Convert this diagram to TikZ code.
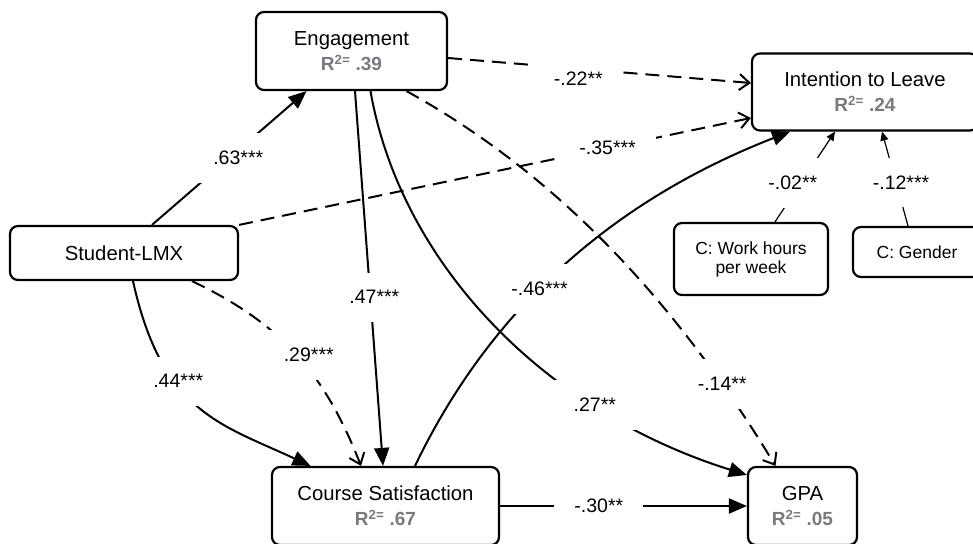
\documentclass[tikz,border=0pt]{standalone}
\usepackage{fontspec}
\setmainfont{Liberation Sans}
\usetikzlibrary{arrows.meta,calc}
\definecolor{rgrigio}{RGB}{120,122,128}
\newcommand{\erre}[1]{{\fontsize{19}{25}\selectfont\color{rgrigio}\bfseries R\textsuperscript{2=} #1}}
\begin{document}
\begin{tikzpicture}[x=1pt,y=-1pt,
    box/.style={draw,line width=2.2pt,rounded corners=8pt,align=center,
      font=\fontsize{20.3}{25}\selectfont,inner sep=0pt},
    ctrl/.style={box,font=\fontsize{17.5}{19}\selectfont},
    lab/.style={fill=white,inner xsep=20pt,inner ysep=18pt,
      font=\fontsize{19.5}{22}\selectfont},
    piena/.style={line width=2pt,-{Triangle[length=18pt,width=15pt]}},
    tratt/.style={line width=2pt,dash pattern=on 14pt off 8pt,
      -{Straight Barb[length=10pt,width=16pt]}},
    sottile/.style={line width=1.2pt,-{Triangle[length=9pt,width=8pt]}}]
    \useasboundingbox (0,0) rectangle (973,543);
    % Nodi
    \node[box,minimum width=191,minimum height=78] (eng) at (351.5,51) {Engagement\\\erre{.39}};
    \node[box,minimum width=226,minimum height=77] (itl) at (865,92) {Intention to Leave\\\erre{.24}};
    \node[box,minimum width=228,minimum height=54] (lmx) at (124,253) {Student-LMX};
    \node[box,minimum width=227,minimum height=78] (cs) at (385.5,506) {Course Satisfaction\\\erre{.67}};
    \node[box,minimum width=109,minimum height=78] (gpa) at (802.5,506) {GPA\\\erre{.05}};
    \node[ctrl,minimum width=154,minimum height=72] (ore) at (751,259) {C: Work hours\\per week};
    \node[ctrl,minimum width=128,minimum height=50] (gen) at (917,252) {C: Gender};
    % Frecce
    \draw[piena] ($(lmx.north)+(28,0)$) -- node[lab,xshift=9pt]{.63***} ($(eng.south)+(-45,0)$);
    \draw[tratt] (lmx.north east) -- node[lab,pos=.72]{-.35***} ($(itl.west)+(0,26)$);
    \draw[tratt] ($(eng.east)+(0,7)$) -- node[lab,pos=.43,yshift=-10pt]{-.22**} ($(itl.west)+(0,-9)$);
    \draw[piena] ($(eng.south)+(3.5,0)$) -- node[lab,pos=.55,xshift=4pt]{.47***} ($(cs.north)+(-2.5,0)$);
    \draw[piena] ($(lmx.south)+(9,0)$) .. controls (162,412) and (220,424) .. node[lab,pos=.35,xshift=4pt]{.44***} ($(cs.north)+(-75,0)$);
    \draw[tratt] ($(lmx.south)+(68,0)$) .. controls (282,324) and (325,374) .. node[lab,pos=.5,xshift=12pt]{.29***} ($(cs.north)+(-24.5,0)$);
    \draw[piena] ($(cs.north)+(29.5,0)$) .. controls (488,314) and (607,203) .. node[lab,pos=.44]{-.46***} ($(itl.south)+(-75,0)$);
    \draw[piena] ($(eng.south)+(19,0)$) .. controls (400,260) and (540,410) .. node[lab,pos=.73]{.27**} ($(gpa.west)+(0,-31)$);
    \draw[tratt] ($(eng.south)+(55,0)$) .. controls (564,178) and (681,310) .. node[lab,pos=.82]{-.14**} ($(gpa.north)+(-27,0)$);
    \draw[piena] (cs.east) -- node[lab,pos=.4]{-.30**} (gpa.west);
    % Controlli
    \draw[sottile] ($(ore.north)+(24,0)$) -- node[lab,pos=.43,xshift=-8pt]{-.02**} ($(itl.south)+(-30,0)$);
    \draw[sottile] ($(gen.north)+(-9,0)$) -- node[lab,pos=.46,xshift=5pt]{-.12***} ($(itl.south)+(17,0)$);
\end{tikzpicture}
\end{document}
